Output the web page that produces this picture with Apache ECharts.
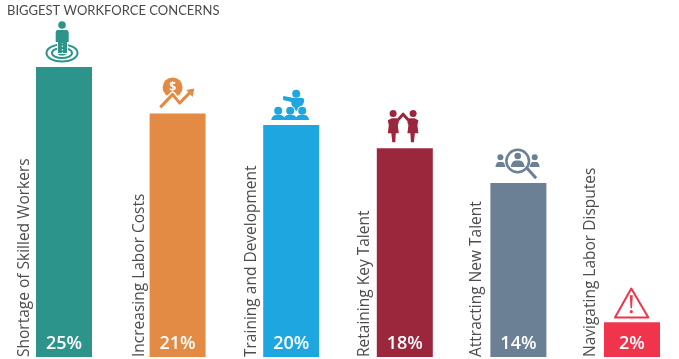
<!DOCTYPE html>
<html>
<head>
<meta charset="utf-8">
<style>
  html, body { margin: 0; padding: 0; background: #fff; }
  #chart { width: 679px; height: 359px; }
</style>
<script src="https://cdn.jsdelivr.net/npm/echarts@6/dist/echarts.min.js"></script>
</head>
<body>
<div id="chart"></div>
<script>
const categories = [
  "Shortage of Skilled Workers",
  "Increasing Labor Costs",
  "Training and Development",
  "Retaining Key Talent",
  "Attracting New Talent",
  "Navigating Labor Disputes"
];
// bar heights as drawn in the picture (the last two bars stand a bit above their printed labels)
const barValues = [25, 21, 20, 18, 15, 3];
const printedLabels = ["25%", "21%", "20%", "18%", "14%", "2%"];
const barColors = ["#2d948c", "#e38b45", "#1da6e0", "#9b273d", "#6b8094", "#ef344c"];
// distance of the rotated name from the bar centre
const nameOffsets = [-39.5, -38, -39.5, -40, -42, -41];

const circle = (cx, cy, r, fill) => ({ type: "circle", shape: { cx, cy, r }, style: { fill } });
const ring = (cx, cy, r, stroke, lineWidth) => ({ type: "circle", shape: { cx, cy, r }, style: { fill: "none", stroke, lineWidth } });
const oval = (cx, cy, rx, ry, stroke, lineWidth) => ({ type: "ellipse", shape: { cx, cy, rx, ry }, style: { fill: "none", stroke, lineWidth } });
const shape = (pathData, fill) => ({ type: "path", shape: { pathData }, style: { fill } });
const line = (pathData, stroke, lineWidth) => ({
  type: "path", shape: { pathData },
  style: { fill: "none", stroke, lineWidth, lineJoin: "round" }
});
const dome = (cx, top, bottom, halfW, c) => shape(
  `M${cx - halfW} ${bottom} Q${cx - halfW + 1} ${top} ${cx - 2} ${top} L${cx + 2} ${top} Q${cx + halfW - 1} ${top} ${cx + halfW} ${bottom} Z`, c
);

// 图标, drawn around the top centre of each bar
const icons = [
  c => [
    oval(-2, -14, 15.5, 8.5, c, 2),
    oval(-2, -14, 10, 5, c, 2),
    { type: "ellipse", shape: { cx: -2, cy: -14, rx: 5, ry: 2.6 }, style: { fill: c } },
    circle(-2, -42, 3.8, c),
    line("M-6 -25 L-6 -14 L3 -14 L3 -25", "#fff", 2),
    shape("M-6.5 -37 L2.5 -37 Q4.7 -37 4.7 -34.5 L4.7 -25 L3 -25 L3 -14 L-1.2 -14 L-1.2 -24 L-2.2 -24 L-2.2 -14 L-6 -14 L-6 -25 L-8.3 -25 L-8.3 -34.5 Q-8.3 -37 -6.5 -37 Z", c)
  ],
  c => [
    circle(-5, -26, 10, c),
    { type: "text", x: -5, y: -26, style: { text: "$", fill: "#fff", font: "bold 12px 'Open Sans'", align: "center", verticalAlign: "middle" } },
    line("M-17.3 -6 L-5 -19 L2 -10.3 L13.7 -22.3", "#fff", 6),
    line("M-17.3 -6 L-5 -19 L2 -10.3 L13.7 -22.3", c, 3),
    shape("M16.7 -25 L8.7 -23.5 L15 -16.5 Z", c)
  ],
  c => [
    circle(5, -31.3, 4, c),
    shape("M-8.3 -27.5 L-7.7 -29 L3 -27 L11 -27 Q13 -27 13 -24 Q12 -19 5 -14 Q0 -18 0 -23 L-8 -25 Z", c),
    circle(-13, -14.3, 5, "#fff"), circle(-1, -14.3, 5, "#fff"), circle(11, -14.3, 5, "#fff"),
    circle(-13, -14.3, 4, c), circle(-1, -14.3, 4, c), circle(11, -14.3, 4, c),
    dome(-13, -10, -5, 7, c), dome(-1, -10, -5, 7, c), dome(11, -10, -5, 7, c)
  ],
  c => [
    circle(-11.7, -34.7, 3.5, c), circle(8.3, -34.7, 3.5, c),
    shape("M-17 -28 L-13 -30 L-8 -30 L-6 -26 L-7 -23 L-6 -15 L-9 -15 L-9.5 -6 L-12.5 -6 L-13.5 -15 L-17 -15 L-16 -23 Z", c),
    shape("M13.6 -28 L9.6 -30 L4.6 -30 L2.6 -26 L3.6 -23 L2.6 -15 L5.6 -15 L6.1 -6 L9.1 -6 L10.1 -15 L13.6 -15 L12.6 -23 Z", c),
    line("M-8 -27 L-1.7 -34 L4.6 -27", c, 3)
  ],
  c => [
    circle(-18, -25.7, 3, c), dome(-18, -21, -16, 5, c),
    circle(16.3, -25.7, 3, c), dome(16.3, -21, -16, 5, c),
    ring(-0.7, -22, 11.3, c, 2.5),
    line("M8.7 -14.7 L17.7 -4.7", c, 3),
    circle(-0.7, -27, 3.3, c),
    dome(-0.7, -22.5, -16, 7, c)
  ],
  c => [
    line("M-0.7 -33.7 L16.3 -4.7 L-17 -4.7 Z", c, 2),
    shape("M-2.2 -27 L0.8 -27 L0 -14 L-1.4 -14 Z", c),
    circle(-0.7, -10.5, 1.6, c)
  ]
];

const chart = echarts.init(document.getElementById("chart"), null, { renderer: "canvas" });
chart.setOption({
  animation: false,
  backgroundColor: "#fff",
  title: {
    text: "BIGGEST WORKFORCE CONCERNS",
    left: 7,
    top: 4,
    padding: 0,
    textStyle: { fontFamily: "Lato", fontSize: 13, fontWeight: "normal", color: "#4a4a4a" }
  },
  // the last band runs past the window edge, same as the bar spacing in the picture
  grid: { left: 7.2, width: 681.6, top: 67, height: 290, outerBoundsMode: "none" },
  xAxis: { type: "category", data: categories, show: false },
  yAxis: { type: "value", min: 0, max: 25, show: false },
  series: [
    {
      type: "bar",
      barWidth: 56,
      silent: true,
      data: barValues.map((v, i) => ({ value: v, itemStyle: { color: barColors[i] } })),
      label: {
        show: true,
        position: "insideBottom",
        distance: 4,
        formatter: p => printedLabels[p.dataIndex],
        color: "#fff",
        fontFamily: "Open Sans",
        fontSize: 18,
        fontWeight: 600
      }
    },
    {
      type: "custom",
      silent: true,
      clip: false,
      data: barValues.map((v, i) => [i, v]),
      renderItem: (params, api) => {
        const i = api.value(0);
        const top = api.coord([i, api.value(1)]);
        const bottom = api.coord([i, 0]);
        return {
          type: "group",
          children: [
            { type: "group", x: top[0], y: top[1], children: icons[i](barColors[i]) },
            {
              type: "text",
              x: bottom[0] + nameOffsets[i],
              y: bottom[1],
              rotation: Math.PI / 2,
              style: {
                text: categories[i],
                font: "15.5px 'Open Sans'",
                fill: "#4d4d4d",
                align: "left",
                verticalAlign: "middle"
              }
            }
          ]
        };
      }
    }
  ]
});
</script>
</body>
</html>
